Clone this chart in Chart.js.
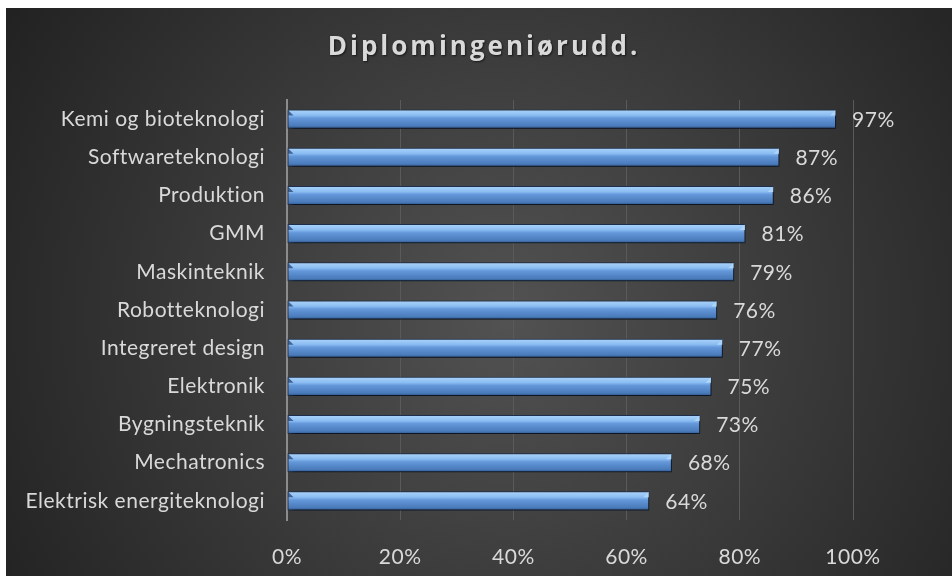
<!DOCTYPE html>
<html>
<head>
<meta charset="utf-8">
<script src="https://cdn.jsdelivr.net/npm/chart.js@4.4.0/dist/chart.umd.min.js"></script>
<style>
    html, body { margin: 0; padding: 0; background: #ffffff; }
    #wrap { position: absolute; left: 6px; top: 8px; width: 946px; height: 568px; }
</style>
</head>
<body>
<div id="wrap"><canvas id="bar-chart" width="946" height="568"></canvas></div>
<script>
    "use strict";

    var titleText = "Diplomingeniørudd.";
    var categories = [
        "Kemi og bioteknologi", "Softwareteknologi", "Produktion", "GMM",
        "Maskinteknik", "Robotteknologi", "Integreret design", "Elektronik",
        "Bygningsteknik", "Mechatronics", "Elektrisk energiteknologi"
    ];
    var values = [97, 87, 86, 81, 79, 76, 77, 75, 73, 68, 64];
    var tickValues = [0, 20, 40, 60, 80, 100];

    var FONT = "Lato, 'Noto Sans', sans-serif";
    var TITLE_FONT = "'Open Sans', 'Noto Sans', sans-serif";
    var TEXT_COLOR = "#d9d9d9";

    // Background: dark radial gradient (also sets a small letter spacing for all text)
    var backgroundPlugin = {
        id: "bgGradient",
        beforeDraw: function (chart) {
            var ctx = chart.ctx;
            var w = chart.width, h = chart.height;
            var g = ctx.createRadialGradient(500, 310, 0, 500, 310, 620);
            g.addColorStop(0, "#525252");
            g.addColorStop(1, "#1f1f1f");
            ctx.save();
            ctx.fillStyle = g;
            ctx.fillRect(0, 0, w, h);
            ctx.restore();
            ctx.letterSpacing = "0.5px";
        }
    };

    // Title with letter spacing
    var titlePlugin = {
        id: "spacedTitle",
        afterDraw: function (chart) {
            var ctx = chart.ctx;
            ctx.save();
            ctx.font = "bold 26px " + TITLE_FONT;
            ctx.letterSpacing = "3px";
            ctx.fillStyle = TEXT_COLOR;
            ctx.textAlign = "center";
            ctx.textBaseline = "middle";
            ctx.shadowColor = "rgba(0,0,0,0.6)";
            ctx.shadowOffsetX = 1;
            ctx.shadowOffsetY = 1;
            ctx.shadowBlur = 2;
            ctx.fillText(titleText, chart.width / 2 + 5, 40);
            ctx.restore();
        }
    };

    // Bar shadow + bevel ends + value labels
    var barPlugin = {
        id: "barDecor",
        beforeDatasetsDraw: function (chart) {
            var ctx = chart.ctx;
            ctx.save();
            ctx.shadowColor = "rgba(0,0,0,0.75)";
            ctx.shadowBlur = 5;
            ctx.shadowOffsetX = 2;
            ctx.shadowOffsetY = 3;
        },
        afterDatasetsDraw: function (chart) {
            var ctx = chart.ctx;
            ctx.restore();
            var meta = chart.getDatasetMeta(0);
            ctx.save();
            meta.data.forEach(function (bar, i) {
                var p = bar.getProps(["x", "y", "base", "height"], true);
                var top = p.y - p.height / 2;
                var b = 6;
                // left bevel
                ctx.fillStyle = "rgba(30,60,110,0.7)";
                ctx.beginPath();
                ctx.moveTo(p.base + 0.5, top + 0.5);
                ctx.lineTo(p.base + b, top + b);
                ctx.lineTo(p.base + 0.5, top + b);
                ctx.closePath();
                ctx.fill();
                // right bevel
                ctx.fillStyle = "rgba(175,215,250,0.9)";
                ctx.beginPath();
                ctx.moveTo(p.x - 0.5, top + 0.5);
                ctx.lineTo(p.x - 0.5, top + b);
                ctx.lineTo(p.x - b, top + b);
                ctx.closePath();
                ctx.fill();

                ctx.font = "21px " + FONT;
                ctx.fillStyle = TEXT_COLOR;
                ctx.textAlign = "left";
                ctx.textBaseline = "middle";
                ctx.fillText(values[i] + "%", p.x + 16, p.y + 1);
            });
            ctx.restore();
        }
    };

    var barGradient = function (context) {
        var chart = context.chart;
        var yScale = chart.scales.y;
        var yc = yScale ? yScale.getPixelForValue(context.dataIndex) : NaN;
        if (!isFinite(yc)) {
            return "#5b8fd0";
        }
        var half = 9.5;
        var g = chart.ctx.createLinearGradient(0, yc - half, 0, yc + half);
        g.addColorStop(0, "#acd4fb");
        g.addColorStop(0.3, "#8bbdf2");
        g.addColorStop(0.45, "#6498da");
        g.addColorStop(0.85, "#4a7bbb");
        g.addColorStop(1, "#2d5489");
        return g;
    };

    var ctx = document.getElementById("bar-chart").getContext("2d");
    var myChart = new Chart(ctx, {
        type: "bar",
        data: {
            labels: categories,
            datasets: [{
                data: values,
                backgroundColor: barGradient,
                borderColor: "#1d3150",
                borderWidth: 1,
                borderSkipped: false,
                categoryPercentage: 1,
                barPercentage: 0.5
            }]
        },
        options: {
            indexAxis: "y",
            responsive: false,
            animation: false,
            devicePixelRatio: 1,
            layout: {
                padding: { top: 92, right: 99, bottom: 0, left: 0 }
            },
            plugins: {
                legend: { display: false },
                title: { display: false },
                tooltip: { enabled: false }
            },
            scales: {
                x: {
                    min: 0,
                    max: 100,
                    afterFit: function (scale) { scale.height = 56; },
                    afterBuildTicks: function (scale) {
                        scale.ticks = tickValues.map(function (v) { return { value: v }; });
                    },
                    grid: {
                        color: "#5a5a5a",
                        lineWidth: 1,
                        drawTicks: false
                    },
                    border: { display: false },
                    ticks: {
                        padding: 25,
                        color: TEXT_COLOR,
                        font: { family: FONT, size: 21 },
                        callback: function (v) { return v + "%"; }
                    }
                },
                y: {
                    afterFit: function (scale) { scale.width = 281; },
                    grid: { display: false, drawTicks: false },
                    border: { display: true, color: "#8c8c8c", width: 2 },
                    ticks: {
                        padding: 22,
                        color: TEXT_COLOR,
                        font: { family: FONT, size: 21 }
                    }
                }
            }
        },
        plugins: [backgroundPlugin, barPlugin, titlePlugin]
    });
</script>
</body>
</html>
